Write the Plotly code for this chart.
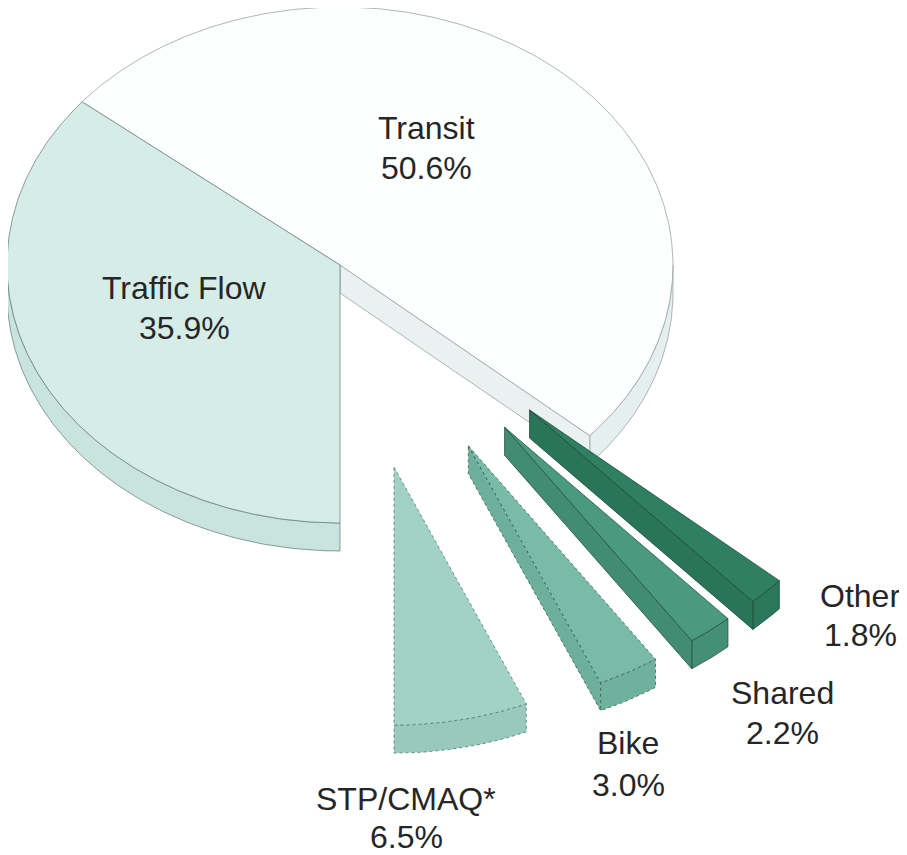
import numpy as np
import plotly.graph_objects as go

# ---------------- data ----------------
categories = ["Traffic Flow", "Transit", "Other", "Shared", "Bike", "STP/CMAQ*"]
shares = [35.9, 50.6, 1.8, 2.2, 3.0, 6.5]
value_labels = ["35.9%", "50.6%", "1.8%", "2.2%", "3.0%", "6.5%"]

# ---------------- style ----------------
pulls = [0.0, 0.0, 0.8, 0.8, 0.8, 0.8]
top_colors = ["#d6ece7", "#fdfefe", "#2f7f63", "#4a9a7f", "#79bba7", "#a2d2c5"]
arc_colors = ["#c9e4de", "#e6efef", "#2b775c", "#448f76", "#70b19d", "#98c9bc"]
cut_colors = ["#c9e4de", "#e9f1f1", "#2a7459", "#428c73", "#6daf9a", "#98c9bc"]
edge_colors = ["#6f8580", "#9aa3a3", "#1d4a3a", "#24513f", "#2f5f51", "#4d7a6d"]
START_ANGLE = -90.0          # first slice starts at the bottom, slices run clockwise
CX, CY, RX, RY, DEPTH = 340.0, 265.0, 333.0, 258.0, 28.0
W, H = 907, 855
PAGE_OFF = 8                 # browser body margin
FONT = "Liberation Sans Narrow, Arial Narrow, Liberation Sans, Arial, sans-serif"
FS = 32
# label anchor: (x, baseline of name, baseline of value) in page pixels
label_pos = {
    "Traffic Flow": (184, 300, 340),
    "Transit": (426, 140, 180),
    "Other": (860, 608, 647),
    "Shared": (782, 705, 745),
    "Bike": (628, 755, 797),
    "STP/CMAQ*": (406, 811, 849),
}


def pt(theta, r, off):
    t = np.radians(theta)
    return off[0] + CX + RX * r * np.cos(t), off[1] + CY - RY * r * np.sin(t)


def arc(a_from, a_to, off):
    n = max(3, int(abs(a_from - a_to) * 2) + 2)
    th = np.linspace(a_from, a_to, n)
    xs, ys = pt(th, 1.0, off)
    return list(xs), list(ys)


fig = go.Figure()


def poly(xs, ys, fill, line, width=0.8, dash="solid"):
    fig.add_trace(go.Scatter(
        x=list(xs) + [xs[0]], y=list(ys) + [ys[0]], mode="lines", fill="toself",
        fillcolor=fill, line=dict(color=line, width=width, dash=dash),
        hoverinfo="skip", showlegend=False))


# slice geometry (angles in degrees, y-up; clockwise = decreasing angle)
slices = []
a = START_ANGLE
total = float(sum(shares))
for i, s in enumerate(shares):
    span = s / total * 360.0
    a1, a2 = a, a - span
    mid = np.radians((a1 + a2) / 2)
    off = (pulls[i] * RX * np.cos(mid), -pulls[i] * RY * np.sin(mid))
    key = off[1] + CY - RY * 0.5 * np.sin(mid)
    slices.append(dict(i=i, a1=a1, a2=a2, off=off, key=key))
    a = a2

for sl in sorted(slices, key=lambda d: d["key"]):
    i, a1, a2, off = sl["i"], sl["a1"], sl["a2"], sl["off"]
    offd = (off[0], off[1] + DEPTH)
    dash = "dot" if i >= 4 else "solid"
    # outer rim faces that look towards the viewer
    for k in range(-3, 3):
        lo, hi = -180 + 360 * k, 360 * k
        b1, b2 = min(a1, hi), max(a2, lo)
        if b1 - b2 > 1e-6:
            xt, yt = arc(b1, b2, off)
            xb, yb = arc(b2, b1, offd)
            poly(xt + xb, yt + yb, arc_colors[i], edge_colors[i], dash=dash)
    # radial cut faces
    ax, ay = pt(0, 0, off)
    for ang, vis in ((a1, np.cos(np.radians(a1)) < -1e-6),
                     (a2, np.cos(np.radians(a2)) > 1e-6)):
        if vis:
            ex, ey = pt(ang, 1.0, off)
            poly([ax, ex, ex, ax], [ay, ey, ey + DEPTH, ay + DEPTH],
                 cut_colors[i], edge_colors[i], dash=dash)
    # top face
    xt, yt = arc(a1, a2, off)
    poly([ax] + xt, [ay] + yt, top_colors[i], edge_colors[i], dash=dash)

# labels
for i, name in enumerate(categories):
    x, b1, b2 = label_pos[name]
    for txt, base in ((name, b1), (value_labels[i], b2)):
        fig.add_annotation(x=x, y=base - 0.36 * FS, text=txt, showarrow=False,
                           xanchor="center", yanchor="middle",
                           font=dict(family=FONT, size=FS, color="#262626"))

fig.update_layout(
    width=W, height=H, margin=dict(l=0, r=0, t=0, b=0),
    paper_bgcolor="white", plot_bgcolor="white", showlegend=False,
    xaxis=dict(range=[PAGE_OFF, W + PAGE_OFF], visible=False, fixedrange=True),
    yaxis=dict(range=[H + PAGE_OFF, PAGE_OFF], visible=False, fixedrange=True),
)
fig.write_html("out.html")
